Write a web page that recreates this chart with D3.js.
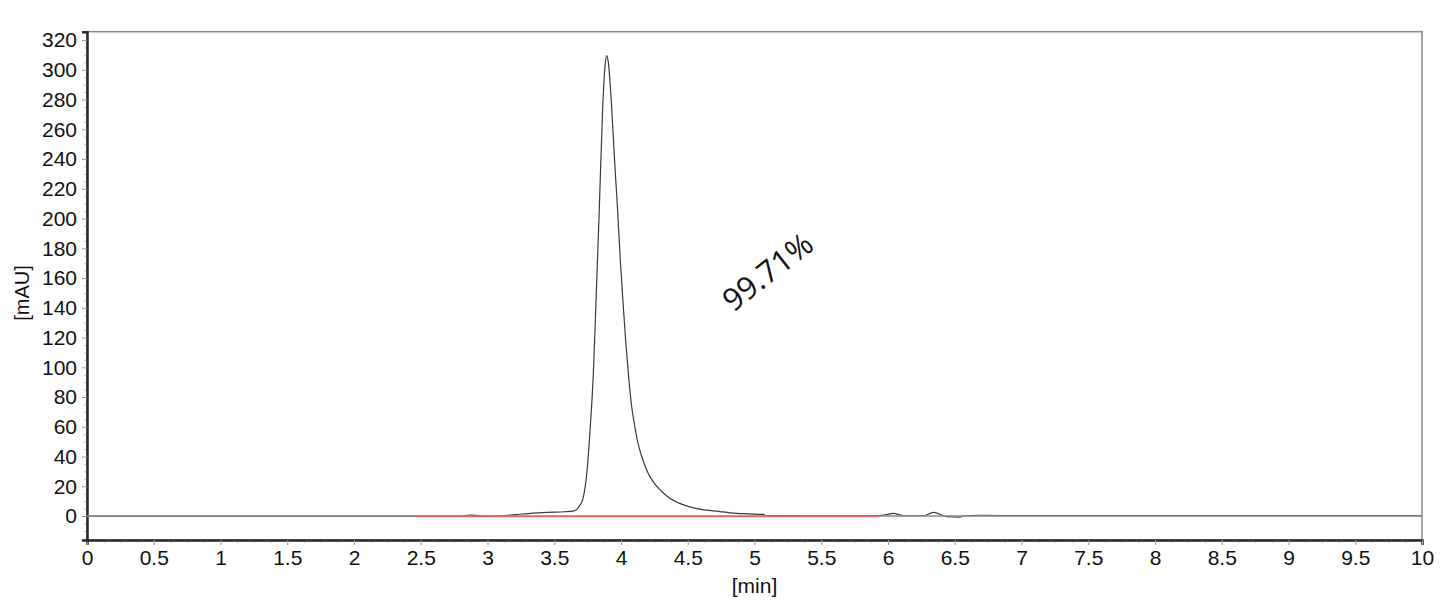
<!doctype html>
<html lang="">
<head>
<meta charset="utf-8">
<style>
    body { margin: 0; background: #fff; }
    .tick text { font-family: "Liberation Sans", Arial, sans-serif; font-size: 21px; fill: #111; }
</style>
</head>
<body>
<div class="start"></div>
<script src="https://d3js.org/d3.v7.min.js"></script>
<script>

    // trace: retention time [min] / absorbance [mAU]
    let time = [0, 2.80, 2.87, 2.93, 3.00, 3.10, 3.20, 3.34, 3.45, 3.58, 3.64, 3.67, 3.69, 3.713, 3.743, 3.77, 3.793,
        3.815, 3.838, 3.863, 3.88, 3.893, 3.905, 3.93, 3.95, 3.973, 3.995, 4.017, 4.035, 4.055, 4.08, 4.10, 4.122,
        4.155, 4.205, 4.25, 4.30, 4.35, 4.44, 4.59, 4.74, 4.82, 4.95, 5.07, 5.08, 5.5, 5.9, 5.97, 6.04, 6.12, 6.27,
        6.34, 6.44, 6.54, 6.57, 6.69, 7.0, 10];
    let signal = [0, 0, 0.6, 0.3, 0, 0.2, 0.9, 2.0, 2.5, 2.9, 3.3, 4.5, 7, 11, 28, 60, 96,
        150, 208, 275, 302, 309.5, 305, 275, 242, 208, 172, 141, 118, 96, 73.5, 62, 51,
        40, 28.5, 22, 17, 13, 8.5, 4.6, 3, 2.2, 1.5, 1.1, 0.3, 0.2, 0.2, 0.6, 1.8, 0.2, 0.2,
        2.5, -0.4, -0.7, 0.2, 0.4, 0.3, 0.3];

    // integration baseline of the main peak
    let baselineTime = [2.46, 5.92];
    let baselineValue = [-0.3, -0.3];

    let xTicks = [0, 0.5, 1, 1.5, 2, 2.5, 3, 3.5, 4, 4.5, 5, 5.5, 6, 6.5, 7, 7.5, 8, 8.5, 9, 9.5, 10];
    let yTicks = [0, 20, 40, 60, 80, 100, 120, 140, 160, 180, 200, 220, 240, 260, 280, 300, 320];
    let peakLabel = "99.71%";

    let width = 1450;
    let height = 610;
    let margin = {top: 31.7, right: 28, bottom: 70, left: 87};

    let svg = d3.select('.start').append('svg')
        .attr('width', width)
        .attr('height', height);

    let x = d3.scaleLinear().domain([0, 10]).range([margin.left, width - margin.right]);
    let y = d3.scaleLinear().domain([-16.1, 325.6]).range([height - margin.bottom, margin.top]);

    // frame (top / right are light)
    svg.append('rect')
        .attr('x', x(0)).attr('y', y(325.6))
        .attr('width', x(10) - x(0)).attr('height', y(-16.1) - y(325.6))
        .attr('fill', 'none').attr('stroke', '#8a8a8a').attr('stroke-width', 1.5);

    // minor ticks
    let xMinor = d3.range(0, 80).map(i => i * 0.125).filter(v => v % 0.5 !== 0);
    let yMinor = d3.range(-15, 326, 5).filter(v => v % 20 !== 0);

    svg.append('g')
        .attr('transform', `translate(0,${y(-16.1)})`)
        .call(d3.axisBottom(x).tickValues(xMinor).tickSize(3).tickFormat(''))
        .call(g => g.select('.domain').remove())
        .selectAll('line').attr('stroke', '#c4c4c4');

    svg.append('g')
        .attr('transform', `translate(${x(0)},0)`)
        .call(d3.axisLeft(y).tickValues(yMinor).tickSize(3).tickFormat(''))
        .call(g => g.select('.domain').remove())
        .selectAll('line').attr('stroke', '#c4c4c4');

    // major axes
    let xAxis = svg.append('g')
        .attr('transform', `translate(0,${y(-16.1)})`)
        .call(d3.axisBottom(x).tickValues(xTicks).tickSize(5).tickPadding(5).tickFormat(d3.format('~g')));
    xAxis.select('.domain').attr('stroke', '#2a2a2a').attr('stroke-width', 2.5);
    xAxis.selectAll('.tick line').attr('stroke', '#999');

    let yAxis = svg.append('g')
        .attr('transform', `translate(${x(0)},0)`)
        .call(d3.axisLeft(y).tickValues(yTicks).tickSize(5).tickPadding(5));
    yAxis.select('.domain').attr('stroke', '#2a2a2a').attr('stroke-width', 2.5);
    yAxis.selectAll('.tick line').attr('stroke', '#999');

    // axis titles
    svg.append('text')
        .attr('x', (x(0) + x(10)) / 2)
        .attr('y', 593)
        .attr('text-anchor', 'middle')
        .style('font-family', '"Liberation Sans", Arial, sans-serif')
        .style('font-size', '21px')
        .attr('fill', '#111')
        .text('[min]');

    svg.append('text')
        .attr('transform', `translate(29,${y(150)}) rotate(-90)`)
        .attr('text-anchor', 'middle')
        .style('font-family', '"Liberation Sans", Arial, sans-serif')
        .style('font-size', '20px')
        .attr('fill', '#111')
        .text('[mAU]');

    // chromatogram trace
    let trace = time.map((t, i) => [t, signal[i]]);
    let line = d3.line()
        .x(d => x(d[0]))
        .y(d => y(d[1]))
        .curve(d3.curveMonotoneX);

    svg.append('path')
        .datum(trace)
        .attr('d', line)
        .attr('fill', 'none')
        .attr('stroke', '#3a3a3a')
        .attr('stroke-width', 1.2);

    // zero line drawn over the flat parts of the trace
    svg.append('line')
        .attr('x1', x(0)).attr('x2', x(10))
        .attr('y1', y(0)).attr('y2', y(0))
        .attr('stroke', '#8c8c8c').attr('stroke-width', 1.5);

    // baseline
    svg.append('line')
        .attr('x1', x(baselineTime[0])).attr('x2', x(baselineTime[1]))
        .attr('y1', y(baselineValue[0])).attr('y2', y(baselineValue[1]))
        .attr('stroke', '#e46a6a').attr('stroke-width', 1.5);

    // peak area label
    svg.append('text')
        .attr('transform', `translate(767,271) rotate(-38)`)
        .attr('text-anchor', 'middle')
        .attr('dominant-baseline', 'central')
        .style('font-family', '"Open Sans", "Noto Sans", sans-serif')
        .style('font-size', '31px')
        .attr('fill', '#111')
        .text(peakLabel);

</script>
</body>
</html>
